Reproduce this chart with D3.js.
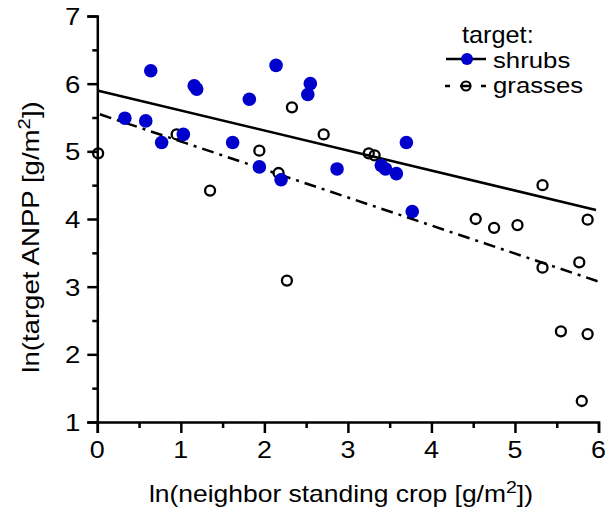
<!DOCTYPE html>
<html><head><meta charset="utf-8">
<script src="https://cdn.jsdelivr.net/npm/d3@7"></script>
<style>body{margin:0;background:#fff}svg{display:block}text{font-family:"Liberation Sans",Arial,sans-serif;fill:#000}</style>
</head><body>
<script>
const shrubsX = [0.33,0.58,0.64,0.77,1.03,1.16,1.19,1.62,1.82,1.94,2.14,2.20,2.52,2.55,2.87,3.40,3.45,3.58,3.70,3.77];
const shrubsY = [5.49,5.45,6.19,5.13,5.25,5.97,5.92,5.13,5.77,4.77,6.27,4.58,5.84,6.00,4.74,4.79,4.74,4.67,5.13,4.11];
const grassesX = [0.01,0.95,1.35,1.94,2.17,2.27,2.33,2.71,3.25,3.32,4.53,4.75,5.03,5.33,5.33,5.55,5.77,5.80,5.87,5.87];
const grassesY = [4.97,5.25,4.42,5.01,4.68,3.09,5.65,5.25,4.97,4.94,4.00,3.87,3.91,4.50,3.28,2.34,3.36,1.31,3.99,2.30];
const shrubsFit = {intercept:5.90, slope:-0.296, x0:0, x1:5.97};
const grassesFit = {intercept:5.56, slope:-0.414, x0:0.03, x1:6.0};
const xTicks = [0,1,2,3,4,5,6];
const yTicks = [1,2,3,4,5,6,7];
const xMinor = [0.5,1.5,2.5,3.5,4.5,5.5];
const yMinor = [1.5,2.5,3.5,4.5,5.5,6.5];
const seriesNames = ["shrubs","grasses"];
const blue = "#0000CD";

const W=605,H=510;
const svg=d3.select("body").append("svg").attr("width",W).attr("height",H);
const x=d3.scaleLinear().domain([0,6]).range([97.3,598.5]);
const y=d3.scaleLinear().domain([1,7]).range([422,16]);

// axes
const gx=svg.append("g").attr("transform","translate(0,422)");
gx.call(d3.axisBottom(x).tickValues(xTicks).tickSize(11).tickPadding(4).tickFormat(d3.format("d")));
gx.append("g").call(d3.axisBottom(x).tickValues(xMinor).tickSize(6).tickFormat(""));
const gy=svg.append("g").attr("transform","translate(97.3,0)");
gy.call(d3.axisLeft(y).tickValues(yTicks).tickSize(10).tickPadding(5).tickFormat(d3.format("d")));
gy.append("g").call(d3.axisLeft(y).tickValues(yMinor).tickSize(5).tickFormat(""));
svg.selectAll(".domain").attr("stroke","#000").attr("stroke-width",2.5);
svg.selectAll(".tick line").attr("stroke","#000").attr("stroke-width",2.5);
svg.selectAll("g g .domain").remove();
svg.selectAll(".tick text").attr("font-size",24).attr("font-family","Liberation Sans, Arial, sans-serif");
gx.selectAll(".tick text").attr("y",0).attr("dy",0).attr("transform","translate(-0.5,36) scale(1.12,1)");
gy.selectAll(".tick text").attr("x",0).attr("dy","0.36em").attr("transform","translate(-17,0) scale(1.15,1)");

// regression lines
function fitLine(f){return [[f.x0,f.intercept+f.slope*f.x0],[f.x1,f.intercept+f.slope*f.x1]];}
const line=d3.line().x(d=>x(d[0])).y(d=>y(d[1]));
svg.append("path").attr("d",line(fitLine(shrubsFit))).attr("stroke","#000").attr("stroke-width",2.5).attr("fill","none");
svg.append("path").attr("d",line(fitLine(grassesFit))).attr("stroke","#000").attr("stroke-width",2.5).attr("fill","none").attr("stroke-dasharray","12,6,3,6");

// points
svg.append("g").selectAll("circle").data(grassesX.map((v,i)=>[v,grassesY[i]])).join("circle")
  .attr("cx",d=>x(d[0])).attr("cy",d=>y(d[1])).attr("r",5).attr("fill","none").attr("stroke","#000").attr("stroke-width",2.3);
svg.append("g").selectAll("circle").data(shrubsX.map((v,i)=>[v,shrubsY[i]])).join("circle")
  .attr("cx",d=>x(d[0])).attr("cy",d=>y(d[1])).attr("r",6.8).attr("fill",blue);

// axis titles
svg.append("text").attr("x",341).attr("y",502).attr("text-anchor","middle").attr("font-size",23)
  .attr("transform","translate(341,0) scale(1.15,1) translate(-341,0)")
  .html('ln(neighbor standing crop [g/m<tspan dy="-9" font-size="17">2</tspan><tspan dy="9">])</tspan>');
svg.append("text").attr("transform","translate(39,237) rotate(-90) scale(1.2,1)").attr("text-anchor","middle").attr("font-size",23)
  .html('ln(target ANPP [g/m<tspan dy="-9" font-size="17">2</tspan><tspan dy="9">])</tspan>');

// legend
const lg=svg.append("g");
lg.append("text").attr("transform","translate(462,43) scale(1.1,1)").attr("font-size",23).text("target:");
lg.append("line").attr("x1",446).attr("x2",486).attr("y1",59).attr("y2",59).attr("stroke","#000").attr("stroke-width",2.5);
lg.append("circle").attr("cx",467).attr("cy",59).attr("r",6).attr("fill",blue);
lg.append("text").attr("transform","translate(493,68) scale(1.12,1)").attr("font-size",23).text(seriesNames[0]);
lg.append("line").attr("x1",445).attr("x2",486).attr("y1",86).attr("y2",86).attr("stroke","#000").attr("stroke-width",2.5).attr("stroke-dasharray","5,10,11,10,5");
lg.append("circle").attr("cx",466).attr("cy",86).attr("r",4.5).attr("fill","none").attr("stroke","#000").attr("stroke-width",2.2);
lg.append("text").attr("transform","translate(493,93) scale(1.12,1)").attr("font-size",23).text(seriesNames[1]);
</script>
</body></html>
